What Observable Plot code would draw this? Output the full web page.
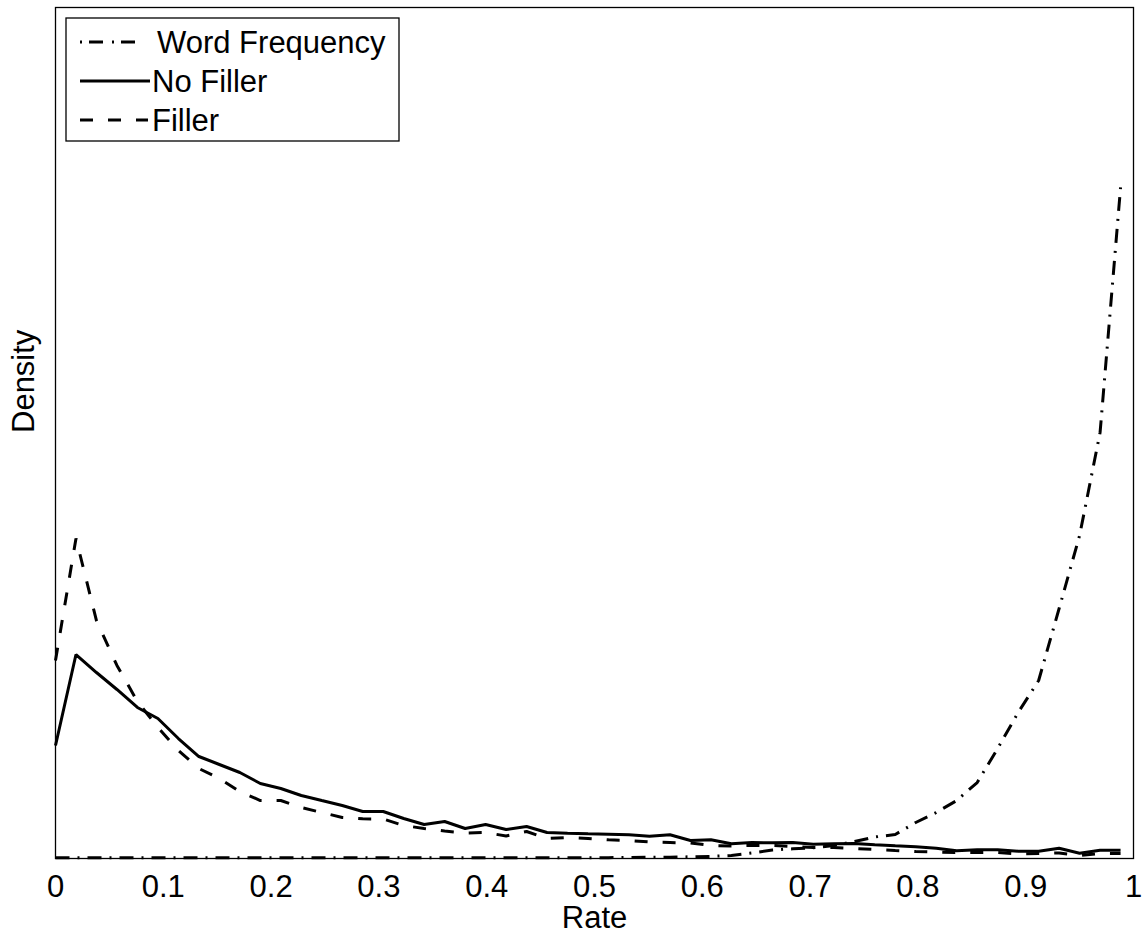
<!DOCTYPE html>
<html>
<head>
<meta charset="utf-8">
<script src="https://cdn.jsdelivr.net/npm/d3@7"></script>
<script src="https://cdn.jsdelivr.net/npm/@observablehq/plot@0.6"></script>
<style>
  body { margin: 0; background: #fff; }
  #chart { width: 1143px; height: 934px; }
</style>
</head>
<body>
<div id="chart"></div>
<script>
// ---- data ----
const rate = [0, 0.019, 0.038, 0.057, 0.076, 0.095, 0.114, 0.133, 0.152, 0.171,
  0.190, 0.209, 0.228, 0.247, 0.266, 0.285, 0.304, 0.323, 0.342, 0.361,
  0.380, 0.399, 0.418, 0.437, 0.456, 0.475, 0.494, 0.513, 0.532, 0.551,
  0.570, 0.589, 0.608, 0.627, 0.646, 0.665, 0.684, 0.703, 0.722, 0.741,
  0.760, 0.779, 0.798, 0.817, 0.836, 0.855, 0.874, 0.893, 0.912, 0.931,
  0.950, 0.969, 0.988];

const wordFrequency = [0.02, 0.02, 0.02, 0.02, 0.02, 0.02, 0.02, 0.02, 0.02, 0.02,
  0.02, 0.02, 0.02, 0.02, 0.02, 0.02, 0.02, 0.02, 0.02, 0.02,
  0.02, 0.02, 0.02, 0.02, 0.02, 0.02, 0.02, 0.02, 0.025, 0.03,
  0.03, 0.04, 0.05, 0.07, 0.13, 0.20, 0.228, 0.254, 0.306, 0.40,
  0.505, 0.564, 0.846, 1.081, 1.363, 1.786, 2.585, 3.431, 4.183, 5.875,
  7.591, 10.012, 15.77];

const noFiller = [2.656, 4.794, 4.371, 3.972, 3.549, 3.290, 2.820, 2.397, 2.209, 2.021,
  1.763, 1.645, 1.481, 1.363, 1.246, 1.105, 1.105, 0.940, 0.799, 0.870,
  0.705, 0.799, 0.682, 0.752, 0.611, 0.595, 0.580, 0.571, 0.557, 0.524,
  0.557, 0.423, 0.439, 0.345, 0.376, 0.369, 0.376, 0.336, 0.345, 0.353,
  0.322, 0.298, 0.275, 0.242, 0.181, 0.204, 0.204, 0.172, 0.172, 0.242,
  0.125, 0.195, 0.195];

const filler = [4.653, 7.521, 5.593, 4.536, 3.690, 3.079, 2.538, 2.115, 1.880, 1.575,
  1.363, 1.363, 1.199, 1.081, 0.964, 0.933, 0.928, 0.776, 0.705, 0.646,
  0.599, 0.611, 0.529, 0.635, 0.470, 0.494, 0.470, 0.439, 0.423, 0.388,
  0.376, 0.364, 0.306, 0.294, 0.306, 0.306, 0.282, 0.259, 0.259, 0.235,
  0.212, 0.188, 0.165, 0.153, 0.141, 0.141, 0.141, 0.106, 0.118, 0.129,
  0.071, 0.118, 0.118];

const seriesNames = ["Word Frequency", "No Filler", "Filler"];
const xTicks = [0, 0.1, 0.2, 0.3, 0.4, 0.5, 0.6, 0.7, 0.8, 0.9, 1];
const xTickLabels = ["0", "0.1", "0.2", "0.3", "0.4", "0.5", "0.6", "0.7", "0.8", "0.9", "1"];
const xTitle = "Rate";
const yTitle = "Density";

// ---- build table ----
const seriesValues = [wordFrequency, noFiller, filler];
const rows = [];
seriesNames.forEach((name, s) => {
  rate.forEach((r, i) => rows.push({series: name, rate: r, density: seriesValues[s][i]}));
});

const dashes = {
  "Word Frequency": "14,8,2,8",
  "No Filler": null,
  "Filler": "13,15"
};

const font = "'Liberation Sans', Arial, Helvetica, sans-serif";
const fs = 31;

const lineMarks = seriesNames.map(name =>
  Plot.line(rows.filter(d => d.series === name), {
    x: "rate", y: "density",
    stroke: "black", strokeWidth: 3,
    strokeDasharray: dashes[name] || undefined,
    strokeLinecap: "butt", strokeLinejoin: "miter"
  })
);

const chart = Plot.plot({
  width: 1143, height: 934,
  marginLeft: 55, marginRight: 10, marginTop: 7, marginBottom: 76,
  style: {fontFamily: font, fontSize: fs + "px", background: "white", color: "black", overflow: "visible"},
  x: {domain: [0, 1]},
  y: {domain: [0, 20], axis: null},
  marks: [
    Plot.axisX({
      ticks: xTicks,
      tickFormat: d => xTickLabels[xTicks.findIndex(t => Math.abs(t - d) < 1e-9)],
      tickSize: 0, tickPadding: 16, label: null, fontSize: fs
    }),
    ...lineMarks,
    Plot.frame({stroke: "black", strokeWidth: 1.3}),
    Plot.text([xTitle], {text: d => d, frameAnchor: "bottom", lineAnchor: "middle", dy: 60, fontSize: fs}),
    Plot.text([yTitle], {text: d => d, frameAnchor: "left", lineAnchor: "middle", dx: -31, rotate: -90, fontSize: fs})
  ]
});

document.getElementById("chart").appendChild(chart);

// ---- legend (inside plot, top-left) ----
const svg = d3.select(chart);
const lg = svg.append("g").attr("font-family", font).attr("font-size", fs).attr("text-anchor", "start");
lg.append("rect").attr("x", 66).attr("y", 18).attr("width", 333).attr("height", 123)
  .attr("fill", "white").attr("stroke", "black").attr("stroke-width", 1.3);
const legendDash = {"Word Frequency": "2,7,14,9", "No Filler": null, "Filler": "13,15"};
const legendEnd = {"Word Frequency": 140, "No Filler": 150, "Filler": 148};
const legendTextX = {"Word Frequency": 157, "No Filler": 152, "Filler": 152};
seriesNames.forEach((name, i) => {
  const y = 42 + i * 39;
  const ln = lg.append("line").attr("x1", 80).attr("x2", legendEnd[name]).attr("y1", y).attr("y2", y)
    .attr("stroke", "black").attr("stroke-width", 3).attr("stroke-linecap", "butt");
  if (legendDash[name]) ln.attr("stroke-dasharray", legendDash[name]);
  lg.append("text").attr("x", legendTextX[name]).attr("y", y).attr("dy", "0.35em").attr("fill", "black")
    .attr("text-anchor", "start").text(name);
});
</script>
</body>
</html>
